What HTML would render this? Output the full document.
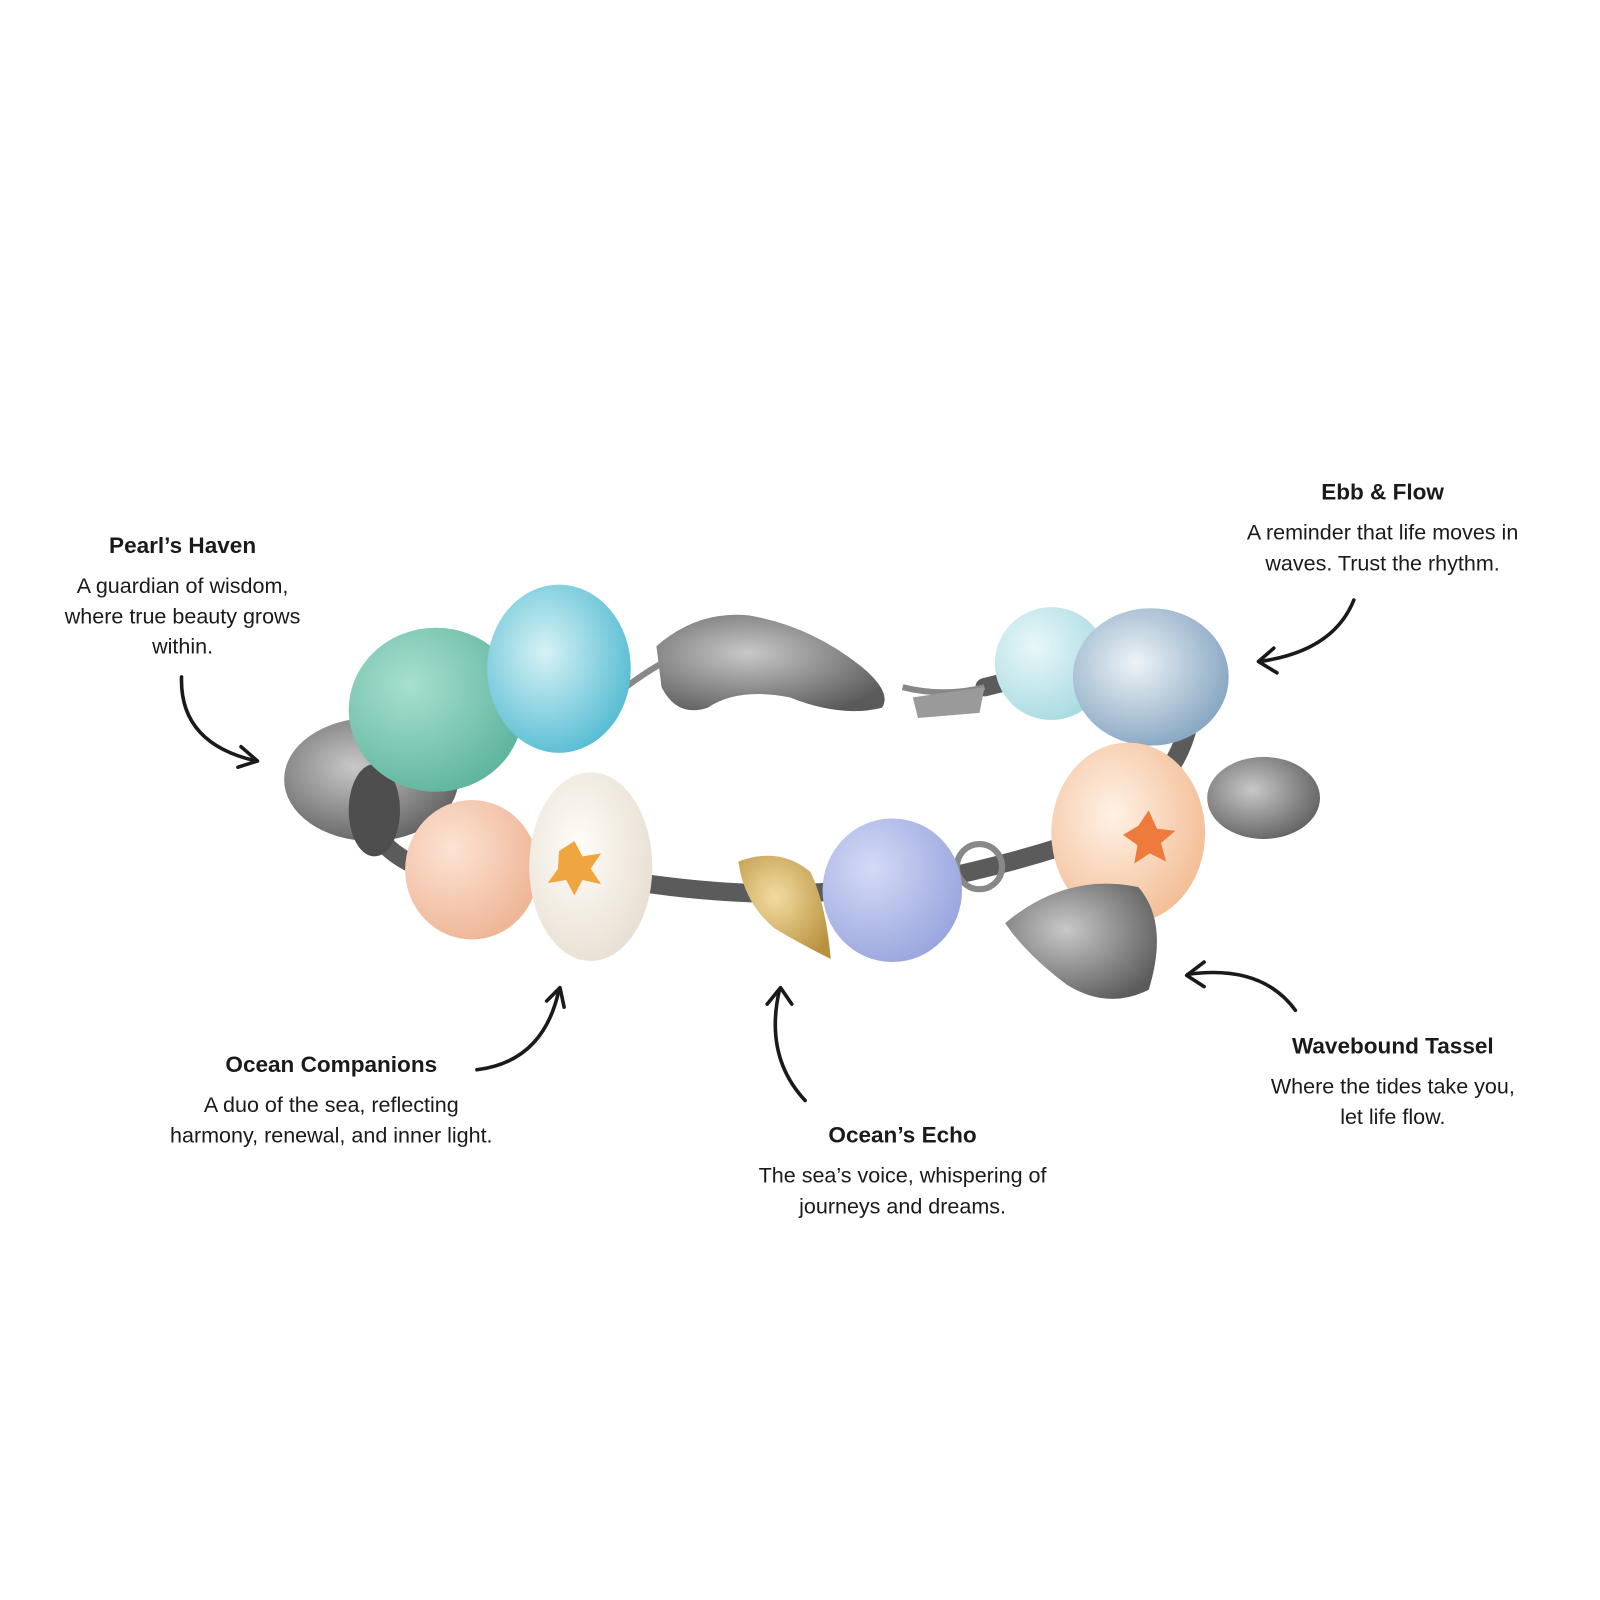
<!DOCTYPE html>
<html><head><meta charset="utf-8"><style>
html,body{margin:0;padding:0;background:#fff;}
svg{display:block;}
text{font-family:"Liberation Sans",sans-serif;fill:#1a1a1a;}
.t{font-weight:bold;font-size:22px;}
.d{font-size:21px;}
</style></head><body>
<svg width="1600" height="1600" viewBox="0 0 1560 1560" xmlns="http://www.w3.org/2000/svg">
<defs>
<radialGradient id="g1" cx="0.35" cy="0.35" r="0.7"><stop offset="0" stop-color="#a8e0cf"/><stop offset="1" stop-color="#5fb59f"/></radialGradient>
<radialGradient id="g2" cx="0.4" cy="0.4" r="0.7"><stop offset="0" stop-color="#d6f2f5"/><stop offset="1" stop-color="#4cb8d0"/></radialGradient>
<radialGradient id="g3" cx="0.35" cy="0.35" r="0.7"><stop offset="0" stop-color="#fde3d3"/><stop offset="1" stop-color="#eeb596"/></radialGradient>
<radialGradient id="g4" cx="0.4" cy="0.4" r="0.7"><stop offset="0" stop-color="#fffdf8"/><stop offset="1" stop-color="#e6ddd0"/></radialGradient>
<radialGradient id="g5" cx="0.35" cy="0.35" r="0.7"><stop offset="0" stop-color="#d4daf6"/><stop offset="1" stop-color="#9aa6df"/></radialGradient>
<radialGradient id="g6" cx="0.35" cy="0.35" r="0.7"><stop offset="0" stop-color="#e8f7f8"/><stop offset="1" stop-color="#a8dbe2"/></radialGradient>
<radialGradient id="g7" cx="0.4" cy="0.4" r="0.7"><stop offset="0" stop-color="#eef3f7"/><stop offset="1" stop-color="#7d9fbd"/></radialGradient>
<radialGradient id="g8" cx="0.4" cy="0.4" r="0.7"><stop offset="0" stop-color="#fff2e6"/><stop offset="1" stop-color="#f2b98f"/></radialGradient>
<radialGradient id="gs" cx="0.4" cy="0.4" r="0.7"><stop offset="0" stop-color="#c8c8c8"/><stop offset="1" stop-color="#5a5a5a"/></radialGradient>
<radialGradient id="gg" cx="0.4" cy="0.4" r="0.7"><stop offset="0" stop-color="#f3dca0"/><stop offset="1" stop-color="#b8913f"/></radialGradient>
</defs>
<!-- chain -->
<g fill="none" stroke="#5b5b5b" stroke-width="18" stroke-linecap="round">
<path d="M360 800 Q380 850 470 860 L620 860 Q720 875 800 870 L900 860 Q1000 840 1080 810 Q1150 760 1160 700"/>
<path d="M470 680 Q520 640 600 670"/>
<path d="M960 670 Q1000 660 1050 650"/>
</g>
<g fill="none" stroke="#888" stroke-width="6">
<path d="M610 670 Q650 640 700 620"/>
<path d="M880 670 Q920 680 960 670"/>
<circle cx="955" cy="845" r="22"/>
</g>
<!-- clasp -->
<path d="M640 630 Q680 595 730 600 Q790 610 840 650 Q870 675 860 690 Q820 700 770 680 Q720 670 690 690 Q660 700 645 670 Z" fill="url(#gs)"/>
<path d="M890 680 L960 670 L955 695 L895 700 Z" fill="#9a9a9a"/>
<!-- beads left -->
<ellipse cx="362" cy="760" rx="85" ry="60" fill="url(#gs)"/>
<ellipse cx="365" cy="790" rx="25" ry="45" fill="#4e4e4e"/>
<ellipse cx="425" cy="692" rx="85" ry="80" fill="url(#g1)"/>
<ellipse cx="545" cy="652" rx="70" ry="82" fill="url(#g2)"/>
<ellipse cx="460" cy="848" rx="65" ry="68" fill="url(#g3)"/>
<ellipse cx="576" cy="845" rx="60" ry="92" fill="url(#g4)"/>
<path d="M545 830 l15 -10 l8 15 l18 -3 l-10 15 l10 15 l-18 -4 l-8 15 l-8 -15 l-18 3 l10 -14 z" fill="#f0a640"/>
<!-- middle -->
<path d="M720 840 Q760 825 790 850 Q805 880 810 935 Q780 920 755 905 Q725 880 720 840 Z" fill="url(#gg)"/>
<ellipse cx="870" cy="868" rx="68" ry="70" fill="url(#g5)"/>
<!-- right -->
<ellipse cx="1025" cy="647" rx="55" ry="55" fill="url(#g6)"/>
<ellipse cx="1122" cy="660" rx="76" ry="67" fill="url(#g7)"/>
<ellipse cx="1100" cy="812" rx="75" ry="88" fill="url(#g8)"/>
<path d="M1110 805 l10 -15 l8 18 l18 2 l-14 12 l5 18 l-16 -8 l-15 10 l3 -18 l-14 -10 z" fill="#ee7a3c"/>
<ellipse cx="1232" cy="778" rx="55" ry="40" fill="url(#gs)"/>
<path d="M980 900 Q1040 850 1110 865 Q1140 900 1120 965 Q1080 985 1040 960 Q1000 930 980 900 Z" fill="url(#gs)"/>
<!-- arrows -->
<g fill="none" stroke="#1a1a1a" stroke-width="3.5" stroke-linecap="round" stroke-linejoin="round">
<path d="M177 660 Q175 725 250 742"/><path d="M235 728 L251 742 L232 748"/>
<path d="M1320 585 Q1300 635 1228 645"/><path d="M1242 632 L1227 645 L1245 656"/>
<path d="M465 1043 Q530 1035 545 965"/><path d="M533 976 L546 963 L550 982"/>
<path d="M785 1073 Q745 1030 760 965"/><path d="M748 979 L761 963 L772 979"/>
<path d="M1263 985 Q1230 940 1158 950"/><path d="M1174 938 L1157 951 L1174 962"/>
</g>
<!-- text -->
<g text-anchor="middle">
<text class="t" x="178" y="539">Pearl’s Haven</text>
<text class="d" x="178" y="578">A guardian of wisdom,</text>
<text class="d" x="178" y="608">where true beauty grows</text>
<text class="d" x="178" y="637">within.</text>
<text class="t" x="1348" y="487">Ebb &amp; Flow</text>
<text class="d" x="1348" y="526">A reminder that life moves in</text>
<text class="d" x="1348" y="556">waves. Trust the rhythm.</text>
<text class="t" x="323" y="1045">Ocean Companions</text>
<text class="d" x="323" y="1084">A duo of the sea, reflecting</text>
<text class="d" x="323" y="1114">harmony, renewal, and inner light.</text>
<text class="t" x="880" y="1114">Ocean’s Echo</text>
<text class="d" x="880" y="1153">The sea’s voice, whispering of</text>
<text class="d" x="880" y="1183">journeys and dreams.</text>
<text class="t" x="1358" y="1027">Wavebound Tassel</text>
<text class="d" x="1358" y="1066">Where the tides take you,</text>
<text class="d" x="1358" y="1096">let life flow.</text>
</g>
</svg>
</body></html>
